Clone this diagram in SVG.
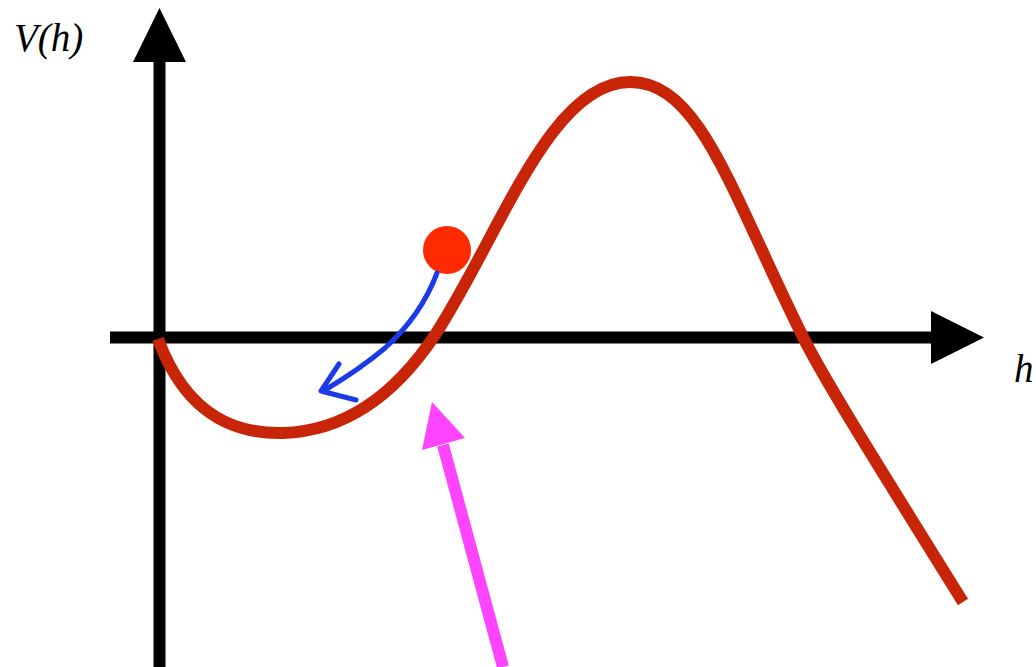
<svg xmlns="http://www.w3.org/2000/svg" width="1036" height="667" viewBox="0 0 1036 667">
<style>
.axis{stroke:#000;stroke-width:12;fill:none}
.head{fill:#000}
.lbl{font-family:"Liberation Serif","DejaVu Serif",serif;font-style:italic;font-size:39px;fill:#000}
.blue{fill:none;stroke:#1B3BE8;stroke-width:5;stroke-linecap:round;stroke-linejoin:round}
</style>
<rect width="1036" height="667" fill="#fff"/>
<g id="axes">
<line class="axis" x1="159.5" y1="667" x2="159.5" y2="58"/>
<polygon class="head" points="159.5,8 133,62 186,62"/>
<line class="axis" x1="110" y1="337.5" x2="935" y2="337.5"/>
<polygon class="head" points="984,337.5 931,311 931,364"/>
</g>
<g id="labels">
<text class="lbl" x="14" y="51">V(h)</text>
<text class="lbl" x="1014" y="382">h</text>
</g>
<g id="curve">
<path d="M158,339 C 188,420 240,434 283,433 C 345,431 395,395 435,335 C 500,235 550,82 630,82 C 700,82 730,190 803,337 C 828,387 901,502 963,602" fill="none" stroke="#C82408" stroke-width="12"/>
</g>
<g id="ball">
<circle cx="447" cy="250" r="24" fill="#FF2A00"/>
</g>
<g id="connectors">
<path class="blue" d="M437,273 C 425,305 405,330 385,348 C 365,365 345,378 325,390"/>
<path class="blue" d="M339,364 L 321,391 L 356,400"/>
<line x1="503" y1="667" x2="443" y2="445" stroke="#FF44FF" stroke-width="12"/>
<polygon points="432,402 422,450 465,438" fill="#FF44FF"/>
</g>
</svg>
